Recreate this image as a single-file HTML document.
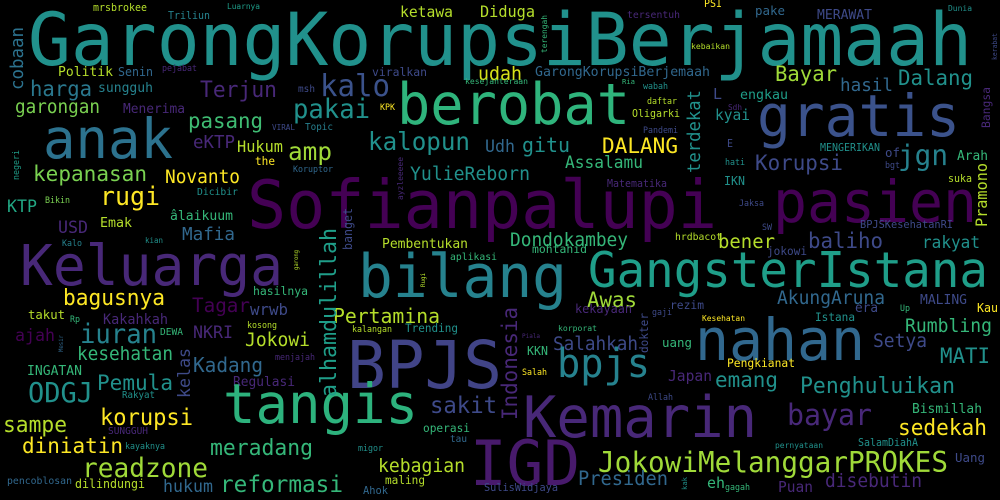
<!DOCTYPE html>
<html><head><meta charset="utf-8"><style>
html,body{margin:0;padding:0;background:#000;}
svg{display:block;}
text{font-family:"DejaVu Sans Mono","Liberation Mono",monospace;}
</style></head><body>
<svg id="cloud" width="1000" height="500" viewBox="0 0 1000 500" xmlns="http://www.w3.org/2000/svg">
<rect width="1000" height="500" fill="#000"/>
</svg>
<script>
const P='#440154',Q='#482878',B='#3e4a89',T='#31688e',C='#26828e',D='#1f9e89',G='#35b779',L='#7ad151',Y='#b5de2b',F='#fde725';
// horizontal: text, left x, baseline y, ink width, color
const hWords=[
["GarongKorupsiBerjamaah",28,65,944,'#21918c'],
["mrsbrokee",93,11,54,Y],["Luarnya",227,9,33,D],["Triliun",168,19,42,C],["ketawa",400,17,53,Y],["Diduga",480,17,55,Y],
["Politik",58,76,55,Y],["Senin",118,76,35,T],["pejabat",162,71,35,Q],["viralkan",372,76,55,B],["udah",478,80,44,'#d8e219'],
["harga",30,96,62,'#2a788e'],["sungguh",98,92,55,C],["Terjun",200,97,77,Q],["kalo",320,96,70,'#3b528b'],["msh",298,92,17,B],
["garongan",15,113,85,L],["Menerima",123,113,62,Q],["KPK",380,110,15,F],["pakai",293,118,77,'#21918c'],["berobat",397,124,233,'#2fb47c'],
["anak",43,158,130,'#2c728e'],["pasang",188,128,75,'#3fbc73'],["VIRAL",272,130,23,B],["Topic",305,130,28,'#277f8e'],
["kalopun",368,150,102,'#21918c'],["eKTP",193,148,42,Q],["Hukum",237,152,46,Y],["amp",288,160,44,'#a0da39'],["Udh",485,152,30,T],
["the",255,165,20,F],["kepanasan",33,181,114,L],["Novanto",165,183,75,F],["YulieReborn",410,180,120,'#21918c'],["Koruptor",293,172,40,T],
["Sofianpalupi",247,228,470,P],["KTP",7,212,30,'#22a884'],["Bikin",45,203,25,L],["rugi",100,205,60,F],["Dicibir",197,195,41,'#21918c'],
["âlaikuum",170,220,63,G],["USD",58,233,30,Q],["Emak",100,227,32,Y],["Mafia",182,240,53,T],["Kalo",62,246,20,C],["kian",145,243,18,'#21918c'],
["Pembentukan",382,248,86,Y],
["PSI",704,7,18,F],["tersentuh",627,18,53,Q],["pake",755,15,30,T],["MERAWAT",817,19,55,B],["Dunia",948,11,24,'#21918c'],
["kebaikan",691,49,39,Y],["GarongKorupsiBerjemaah",535,76,175,T],["Bayar",775,81,62,'#a0da39'],["hasil",840,91,53,T],
["Dalang",898,85,75,'#21918c'],["Ria",622,84,13,G],["kesejahteraan",465,84,63,G],["wabah",643,89,25,'#21918c'],["L",713,99,9,B],
["engkau",740,99,48,D],["daftar",647,104,30,Y],["Sdh",728,110,14,Q],["Oligarki",632,117,48,Y],["kyai",715,120,35,'#21918c'],
["gratis",757,136,203,'#3b528b'],["Pandemi",643,133,35,B],["E",727,147,6,B],["DALANG",602,153,76,F],["gitu",522,152,48,'#21918c'],
["MENGERIKAN",820,151,60,'#21918c'],["of",885,157,15,B],["hati",725,165,20,'#21918c'],["bgt",885,168,15,B],["Arah",957,160,31,G],
["Assalamu",565,168,78,G],["Korupsi",755,170,88,B],["jgn",898,165,50,C],["suka",948,182,24,Y],["IKN",724,185,21,'#21918c'],
["Matematika",607,187,60,Q],["pasien",773,222,204,P],["Jaksa",739,206,25,B],["BPJSKesehatanRI",860,228,93,B],["SW",762,230,10,B],
["Dondokambey",510,246,118,G],["bener",718,248,57,Y],["baliho",808,248,75,B],["rakyat",922,248,58,'#21918c'],["hrdbacot",675,240,47,Y],
["mohtahid",532,253,55,G],
["Keluarga",20,285,263,Q],["bilang",358,297,209,C],["aplikasi",450,260,47,G],["hasilnya",253,295,55,G],["bagusnya",63,305,102,F],
["Tagar",192,312,58,P],["wrwb",250,315,38,B],["Pertamina",333,323,107,Y],["takut",28,319,37,Y],["Rp",70,322,10,G],["Kakahkah",103,324,65,Q],
["iuran",80,343,77,C],["NKRI",193,338,40,Q],["DEWA",160,335,23,G],["kosong",247,328,30,Y],["ajah",15,341,40,P],["Jokowi",245,346,65,Y],
["kalangan",352,332,40,Y],["Trending",405,332,53,'#21918c'],["kesehatan",77,360,96,G],["menjajah",275,360,40,Q],["Kadang",193,372,70,T],
["INGATAN",27,375,55,G],["Pemula",97,390,76,'#21918c'],["ODGJ",28,402,65,'#21918c'],["Regulasi",233,386,62,Q],["Rakyat",122,398,33,'#21918c'],
["BPJS",347,388,155,'#414487'],["tangis",223,423,195,'#2db27d'],["sakit",430,413,67,B],["sampe",3,432,64,Y],["korupsi",100,425,93,F],
["SUNGGUH",108,434,40,Q],["diniatin",22,453,101,F],["meradang",210,455,103,G],["operasi",423,432,47,G],["tau",450,442,17,T],
["kayaknya",125,449,40,'#21918c'],["migor",358,451,25,'#21918c'],["readzone",82,477,126,'#a0da39'],["kebagian",378,472,87,Y],
["IGD",470,485,110,'#481a6c'],["reformasi",220,492,123,G],["hukum",163,492,50,T],["pencoblosan",7,484,65,T],["dilindungi",75,488,70,Y],
["maling",385,484,40,Y],["Ahok",363,494,25,T],["SulisWidjaya",484,491,74,B],
["GangsterIstana",588,287,400,D],["jokowi",767,255,40,B],["Awas",587,307,50,'#a0da39'],["AkungAruna",777,304,108,T],["MALING",920,304,47,B],
["kekayaan",575,313,57,Q],["rezim",670,309,34,B],["era",855,312,23,B],["Up",900,311,10,G],["Kau",977,312,21,F],["gaji",652,315,20,B],
["Kesehatan",702,321,43,F],["Istana",815,321,40,'#21918c'],["korporat",558,331,39,G],["Piala",522,338,18,Q],["Rumbling",905,332,87,G],
["nahan",695,360,170,T],["Salahkah",553,350,85,B],["Setya",873,347,54,B],["uang",662,347,30,G],["KKN",527,355,21,G],["bpjs",557,377,93,C],
["MATI",940,363,50,'#21918c'],["Pengkianat",727,367,68,F],["Salah",522,375,25,F],["Japan",668,381,44,Q],["emang",715,387,63,'#21918c'],
["Penghuluikan",800,393,155,'#21918c'],["Kemarin",523,437,234,Q],["Allah",648,400,25,B],["Bismillah",912,413,70,G],["bayar",787,425,85,Q],
["sedekah",898,435,89,F],["SalamDiahA",858,446,60,'#21918c'],["pernyataan",775,448,48,'#21918c'],["JokowiMelanggarPROKES",598,472,350,'#a0da39'],
["Uang",955,462,30,B],["Presiden",578,485,90,T],["eh",707,488,18,G],["gagah",725,490,25,G],["Puan",778,492,35,Q],["disebutin",825,487,97,Q]
];
// vertical (reads bottom-to-top): text, baseline x (right edge), bottom y, ink length, color
const vWords=[
["cobaan",23,90,63,'#2c728e'],["ayzleeeee",403,200,43,Q],["negeri",19,180,30,D],["banget",352,250,42,B],["alhamdulillah",336,397,169,D],
["terengah",547,53,38,G],["kerabat",997,60,27,B],["Bangsa",990,128,41,Q],["terdekat",700,173,83,'#21918c'],["Pramono",987,227,64,Y],
["garong",298,270,20,Y],["Rugi",425,287,14,Y],["Mesir",63,352,17,T],["kelas",190,398,50,B],["Indonesia",517,420,113,Q],
["dokter",648,353,40,B],["kak",687,490,13,'#21918c']
];
const svg=document.getElementById('cloud');
const NS='http://www.w3.org/2000/svg';
function slug(s){return s.toLowerCase().replace(/[^a-z0-9]+/g,'-');}
hWords.forEach(w=>{
  const t=document.createElementNS(NS,'text');
  const size=w[3]/(0.602*w[0].length)*1.03;
  t.setAttribute('x',w[1]);t.setAttribute('y',w[2]);
  t.setAttribute('font-size',size.toFixed(1));
  t.setAttribute('fill',w[4]);
  t.setAttribute('textLength',w[3]);t.setAttribute('lengthAdjust','spacingAndGlyphs');
  t.textContent=w[0];
  
  
  svg.appendChild(t);
});
vWords.forEach(w=>{
  const t=document.createElementNS(NS,'text');
  const size=w[3]/(0.602*w[0].length)*1.03;
  t.setAttribute('x',0);t.setAttribute('y',0);
  t.setAttribute('transform','translate('+w[1]+','+w[2]+') rotate(-90)');
  t.setAttribute('font-size',size.toFixed(1));
  t.setAttribute('fill',w[4]);
  t.setAttribute('textLength',w[3]);t.setAttribute('lengthAdjust','spacingAndGlyphs');
  t.textContent=w[0];
  
  
  svg.appendChild(t);
});
</script>
</body></html>
